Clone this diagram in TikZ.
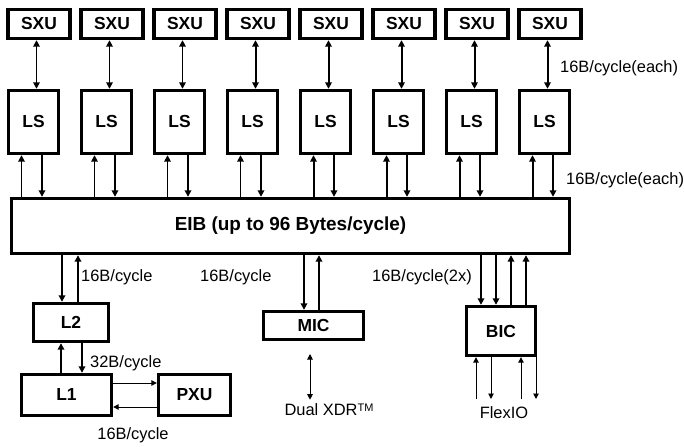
\documentclass[tikz,border=0pt]{standalone}
\usepackage{fontspec}
\setmainfont{Liberation Sans}
\usetikzlibrary{arrows.meta}

\begin{document}
\begin{tikzpicture}[x=1bp, y=-1bp,
    unit/.style={draw, line width=3.4pt, inner sep=0pt, font=\fontsize{17.5}{20}\selectfont\bfseries},
    lbl/.style={inner sep=0pt, font=\fontsize{16.5}{19}\selectfont},
    bus/.style={line width=2pt, -{Triangle[length=6.5bp,width=6.5bp]}},
    busboth/.style={line width=2pt, {Triangle[length=6.5bp,width=6.5bp]}-{Triangle[length=6.5bp,width=6.5bp]}},
    wire/.style={line width=1pt, -{Triangle[length=5.5bp,width=5.5bp]}},
    wireboth/.style={line width=1pt, {Triangle[length=5.5bp,width=5.5bp]}-{Triangle[length=5.5bp,width=5.5bp]}}]
  \useasboundingbox (0,0) rectangle (684,447);
  % eight SXU/LS pairs on top of the bus
  \foreach \i in {1,...,8}{
    \node[unit, minimum width=62bp, minimum height=29bp] (sxu\i) at ({39+73*(\i-1)},24) {SXU};
    \node[unit, minimum width=50bp, minimum height=63bp] (ls\i) at ({33.5+73*(\i-1)},122) {LS};
    \draw[busboth] ([xshift=3bp]ls\i.north) -- ([xshift=3bp]ls\i.north |- sxu\i.south);
  }
  \node[unit, minimum width=558bp, minimum height=55bp, font=\fontsize{19}{22}\selectfont\bfseries] (eib) at (290.5,226) {EIB (up to 96 Bytes/cycle)};
  \foreach \i in {1,...,8}{
    \draw[bus] ([xshift=-12bp]ls\i.south |- eib.north) -- ([xshift=-12bp]ls\i.south);
    \draw[bus] ([xshift=8.5bp]ls\i.south) -- ([xshift=8.5bp]ls\i.south |- eib.north);
  }
  \node[lbl, anchor=west] (bwsxu) at (560,68) {16B/cycle(each)};
  \node[lbl, anchor=west] (bwls) at (566,180) {16B/cycle(each)};

  % PPE side
  \node[unit, minimum width=75bp, minimum height=38bp] (l2) at (71,322.5) {L2};
  \node[unit, minimum width=90bp, minimum height=41bp] (l1) at (66.5,395) {L1};
  \node[unit, minimum width=72bp, minimum height=41bp] (pxu) at (194.5,395) {PXU};
  \draw[bus] ([xshift=-9bp]l2.north |- eib.south) -- ([xshift=-9bp]l2.north);
  \draw[bus] ([xshift=7bp]l2.north) -- ([xshift=7bp]l2.north |- eib.south);
  \draw[bus, line width=2.8pt] ([xshift=-5.5bp]l1.north) -- ([xshift=-5.5bp]l1.north |- l2.south);
  \draw[bus] ([xshift=15.5bp]l1.north |- l2.south) -- ([xshift=15.5bp]l1.north);
  \draw[wire] ([yshift=12bp]l1.east) -- ([yshift=12bp]l1.east -| pxu.west);
  \draw[wire] ([yshift=-12bp]l1.east -| pxu.west) -- ([yshift=-12bp]l1.east);
  \node[lbl, anchor=west] (bwl2) at (81,277) {16B/cycle};
  \node[lbl, anchor=west] (bwl1) at (90,363) {32B/cycle};
  \node[lbl] (bwpxu) at (133,435) {16B/cycle};

  % memory controller
  \node[unit, minimum width=100bp, minimum height=28bp] (mic) at (313.5,325.5) {MIC};
  \draw[bus] ([xshift=-9.5bp]mic.north |- eib.south) -- ([xshift=-9.5bp]mic.north);
  \draw[bus] ([xshift=5.5bp]mic.north) -- ([xshift=5.5bp]mic.north |- eib.south);
  \node[lbl, anchor=west] (bwmic) at (200,277) {16B/cycle};
  \coordinate (xdrtop) at (310,354);
  \node[lbl] (xdr) at (329,410) {Dual XDR\raisebox{4.5bp}{\fontsize{11}{11}\selectfont TM}};
  \draw[wireboth] (xdrtop) -- ([yshift=4bp]xdrtop |- xdr.north);

  % bus interface controller
  \node[unit, minimum width=69bp, minimum height=49bp] (bic) at (501,331) {BIC};
  \foreach \s in {-20,-5}{
    \draw[bus] ([xshift=\s bp]bic.north |- eib.south) -- ([xshift=\s bp]bic.north); }
  \foreach \s in {10,25}{
    \draw[bus] ([xshift=\s bp]bic.north) -- ([xshift=\s bp]bic.north |- eib.south); }
  \node[lbl, anchor=west] (bwbic) at (372,277) {16B/cycle(2x)};
  \coordinate (fio) at (501,399);
  \node[lbl] (flexio) at (504,413) {FlexIO};
  \foreach \s in {-25,20}{
    \draw[wire] ([xshift=\s bp]fio) -- ([xshift=\s bp]fio |- bic.south); }
  \foreach \s in {-10,35}{
    \draw[wire] ([xshift=\s bp]fio |- bic.south) -- ([xshift=\s bp]fio); }
\end{tikzpicture}
\end{document}
